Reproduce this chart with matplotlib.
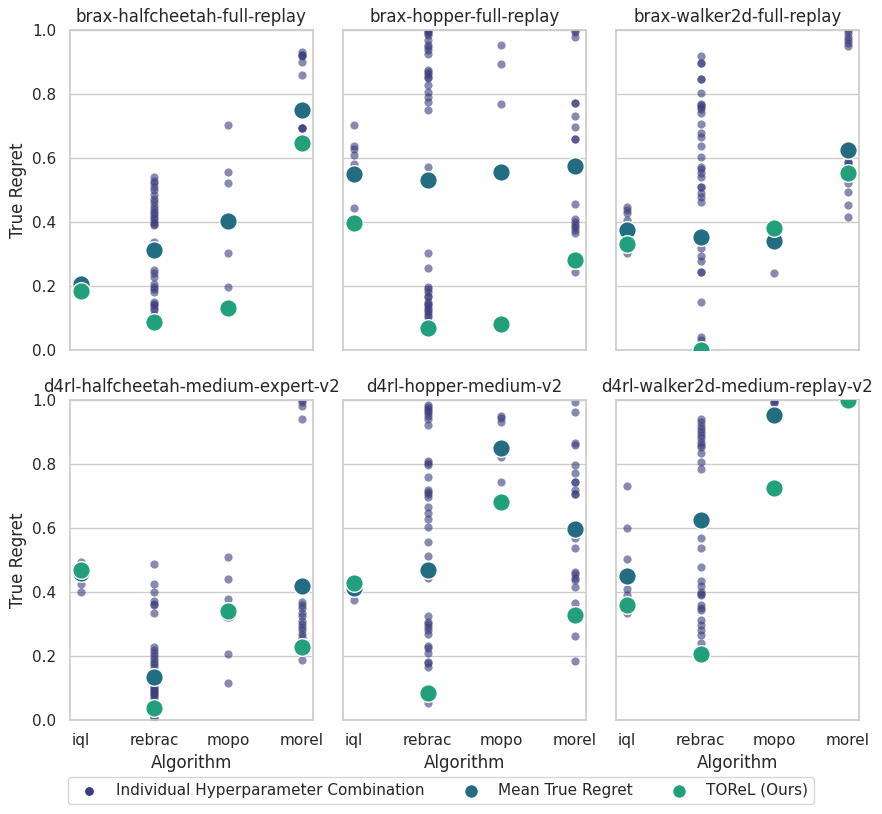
import matplotlib
matplotlib.use("Agg")
import matplotlib.pyplot as plt
import seaborn as sns

algorithms = ["iql", "rebrac", "mopo", "morel"]
datasets = [
    "brax-halfcheetah-full-replay",
    "brax-hopper-full-replay",
    "brax-walker2d-full-replay",
    "d4rl-halfcheetah-medium-expert-v2",
    "d4rl-hopper-medium-v2",
    "d4rl-walker2d-medium-replay-v2",
]

# individual hyperparameter runs, per dataset, per algorithm
hc_full = [
    [0.21, 0.2, 0.195],
    [0.542, 0.53, 0.521, 0.51, 0.5, 0.485, 0.472, 0.464, 0.45, 0.44, 0.432, 0.425, 0.417,
     0.41, 0.401, 0.395, 0.39, 0.339, 0.33, 0.297, 0.25, 0.24, 0.229, 0.208, 0.198, 0.19,
     0.182, 0.151, 0.145, 0.141, 0.13, 0.125, 0.109],
    [0.702, 0.557, 0.521, 0.302, 0.198],
    [0.932, 0.922, 0.922, 0.92, 0.899, 0.859, 0.693, 0.693, 0.693],
]
hopper_full = [
    [0.705, 0.638, 0.63, 0.611, 0.581, 0.56, 0.443],
    [1.0, 0.995, 0.99, 0.985, 0.969, 0.953, 0.948, 0.938, 0.924, 0.875, 0.87, 0.862, 0.855,
     0.85, 0.828, 0.807, 0.79, 0.774, 0.75, 0.571, 0.305, 0.255, 0.198, 0.19, 0.18, 0.17,
     0.167, 0.15, 0.145, 0.14, 0.13, 0.125, 0.12, 0.11, 0.104, 0.09, 0.08],
    [0.952, 0.893, 0.768],
    [1.0, 0.995, 0.98, 0.771, 0.771, 0.732, 0.696, 0.661, 0.661, 0.458, 0.411, 0.4, 0.39,
     0.385, 0.375, 0.365, 0.28, 0.243],
]
walker_full = [
    [0.448, 0.4375, 0.43, 0.406, 0.38, 0.32, 0.302],
    [0.919, 0.898, 0.898, 0.846, 0.846, 0.805, 0.77, 0.765, 0.76, 0.755, 0.74, 0.708, 0.677,
     0.667, 0.638, 0.602, 0.573, 0.565, 0.555, 0.542, 0.51, 0.51, 0.49, 0.48, 0.464, 0.37,
     0.32, 0.295, 0.277, 0.245, 0.245, 0.151, 0.042, 0.03],
    [0.38, 0.34, 0.24],
    [1.0, 0.99, 0.98, 0.97, 0.96, 0.95, 0.589, 0.589, 0.58, 0.523, 0.495, 0.455, 0.415],
]
hc_me = [
    [0.495, 0.485, 0.47, 0.46, 0.45, 0.424, 0.399],
    [0.486, 0.424, 0.399, 0.372, 0.362, 0.359, 0.333, 0.229, 0.22, 0.21, 0.2, 0.19, 0.18,
     0.175, 0.167, 0.15, 0.104, 0.1, 0.095, 0.09, 0.085, 0.08, 0.075, 0.068, 0.01, 0.005],
    [0.508, 0.44, 0.377, 0.33, 0.205, 0.115],
    [1.0, 0.995, 0.98, 0.94, 0.368, 0.36, 0.35, 0.335, 0.325, 0.31, 0.3, 0.29, 0.28, 0.27,
     0.26, 0.1875],
]
hopper_med = [
    [0.42, 0.41, 0.375],
    [0.984, 0.978, 0.972, 0.966, 0.96, 0.95, 0.94, 0.922, 0.81, 0.803, 0.797, 0.758, 0.72,
     0.712, 0.705, 0.698, 0.667, 0.646, 0.627, 0.602, 0.557, 0.514, 0.46, 0.443, 0.325,
     0.307, 0.3, 0.29, 0.28, 0.27, 0.231, 0.225, 0.208, 0.182, 0.178, 0.167, 0.095, 0.052],
    [0.951, 0.945, 0.932, 0.823, 0.743],
    [0.995, 0.964, 0.865, 0.859, 0.797, 0.771, 0.745, 0.745, 0.72, 0.706, 0.706, 0.59,
     0.568, 0.536, 0.463, 0.455, 0.445, 0.4375, 0.415, 0.365, 0.2625, 0.184],
]
walker_mr = [
    [0.73, 0.599, 0.502, 0.408, 0.39, 0.333],
    [0.94, 0.93, 0.92, 0.91, 0.9, 0.89, 0.88, 0.87, 0.86, 0.854, 0.833, 0.805, 0.783, 0.62,
     0.568, 0.536, 0.477, 0.435, 0.419, 0.4, 0.395, 0.39, 0.36, 0.35, 0.344, 0.3125, 0.297,
     0.281, 0.266, 0.24, 0.22],
    [1.0, 0.995, 0.99],
    [1.0, 1.0],
]
individual = [hc_full, hopper_full, walker_full, hc_me, hopper_med, walker_mr]

mean_regret = [
    [0.205, 0.313, 0.402, 0.75],
    [0.55, 0.533, 0.557, 0.575],
    [0.375, 0.354, 0.34, 0.625],
    [0.46, 0.133, 0.333, 0.419],
    [0.411, 0.469, 0.849, 0.596],
    [0.45, 0.625, 0.952, 1.0],
]
torel_regret = [
    [0.185, 0.089, 0.133, 0.646],
    [0.396, 0.068, 0.083, 0.281],
    [0.331, 0.0, 0.383, 0.552],
    [0.469, 0.036, 0.341, 0.228],
    [0.429, 0.085, 0.681, 0.328],
    [0.359, 0.205, 0.724, 1.0],
]

sns.set_theme(style="whitegrid", context="notebook")

c_ind = "#3a3c7c"
c_mean = "#236c82"
c_torel = "#21a07b"

fig, axes = plt.subplots(2, 3, figsize=(8.82, 8.14), sharex=True, sharey=True)
plt.subplots_adjust(left=0.079, right=0.974, top=0.963, bottom=0.1155,
                    wspace=0.123, hspace=0.156)

for k, ax in enumerate(axes.flat):
    for i, vals in enumerate(individual[k]):
        ax.scatter([i] * len(vals), vals, s=35, color=c_ind, alpha=0.6, linewidth=0,
                   zorder=2, label="Individual Hyperparameter Combination" if i == 0 else None)
    ax.scatter(range(4), mean_regret[k], s=160, color=c_mean, edgecolor="white",
               linewidth=1, zorder=3, label="Mean True Regret")
    ax.scatter(range(4), torel_regret[k], s=160, color=c_torel, edgecolor="white",
               linewidth=1, zorder=4, label="TOReL (Ours)")
    ax.set_title(datasets[k], fontsize=12)
    ax.set_ylim(0, 1)
    ax.grid(axis="x", visible=False)
    ax.set_xticks(range(4))
    ax.set_xticklabels(algorithms)
    if k % 3 == 0:
        ax.set_ylabel("True Regret")
    if k >= 3:
        ax.set_xlabel("Algorithm")

handles, labels = axes.flat[0].get_legend_handles_labels()
leg = fig.legend(handles, labels, loc="lower center", bbox_to_anchor=(0.5, 0.003), ncol=3)
for h, size in zip(leg.legend_handles, [40, 80, 80]):
    h.set_alpha(1)
    h.set_sizes([size])
    h.set_linewidth(0)

plt.savefig("out.png", dpi=100)
